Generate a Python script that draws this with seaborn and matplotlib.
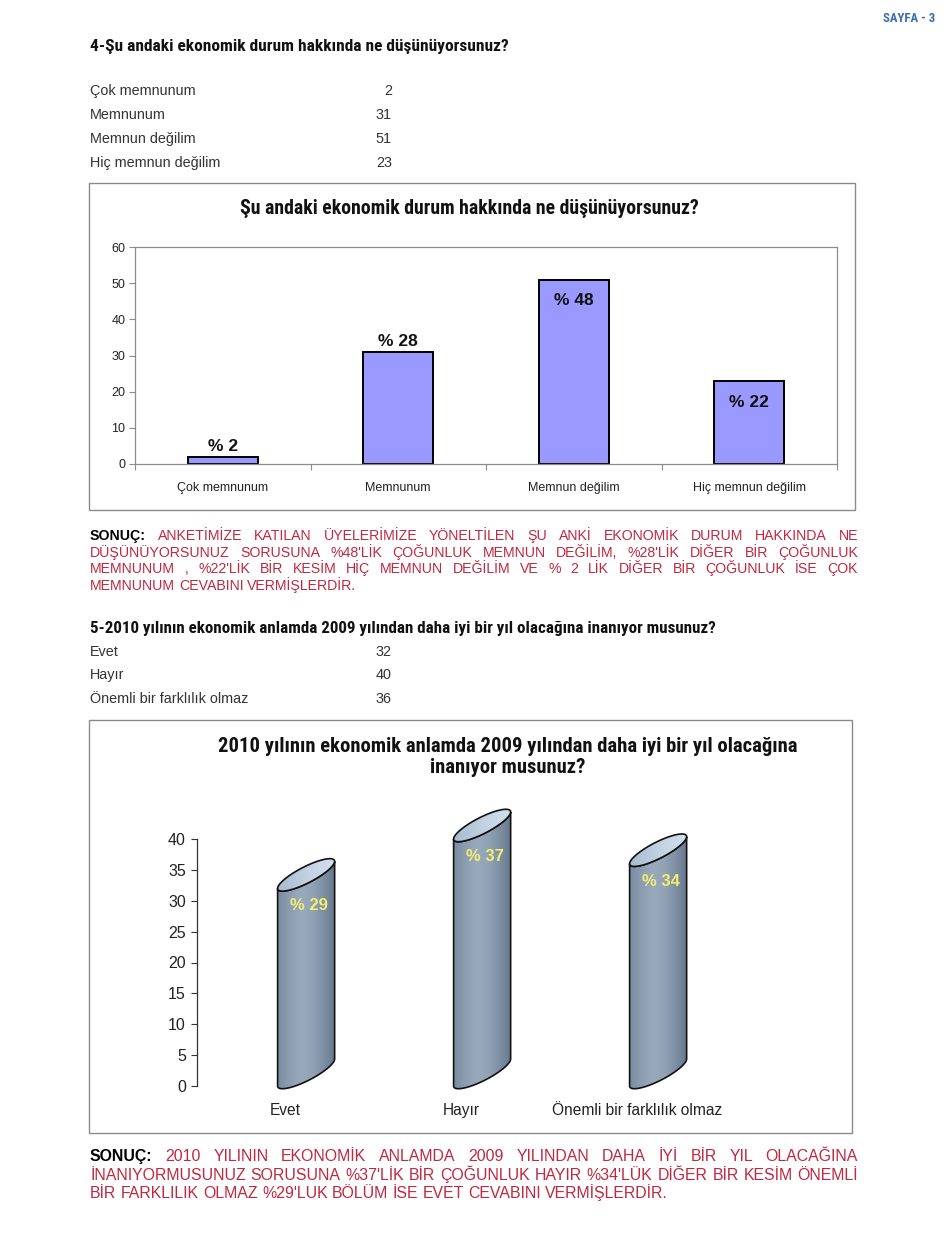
import numpy as np
import pandas as pd
import matplotlib
matplotlib.use("Agg")
import matplotlib.pyplot as plt
import seaborn as sns
from matplotlib import font_manager as fm
from matplotlib.font_manager import FontProperties
from matplotlib.patches import Rectangle, Polygon
from matplotlib.colors import LinearSegmentedColormap

# ---------------- data ----------------
page_label = "SAYFA - 3"

q4_heading = "4-Şu andaki ekonomik durum hakkında ne düşünüyorsunuz?"
q4_categories = ["Çok memnunum", "Memnunum", "Memnun değilim", "Hiç memnun değilim"]
q4_counts = [2, 31, 51, 23]
q4_percent = [2, 28, 48, 22]
q4_label_inside = [False, False, True, True]
q4_chart_title = "Şu andaki ekonomik durum hakkında ne düşünüyorsunuz?"
q4_yticks = [0, 10, 20, 30, 40, 50, 60]

q5_heading = "5-2010 yılının ekonomik anlamda 2009 yılından daha iyi bir yıl olacağına inanıyor musunuz?"
q5_categories = ["Evet", "Hayır", "Önemli bir farklılık olmaz"]
q5_counts = [32, 40, 36]
q5_percent = [29, 37, 34]
q5_chart_title = "2010 yılının ekonomik anlamda 2009 yılından daha iyi bir yıl olacağına\ninanıyor musunuz?"
q5_yticks = [0, 5, 10, 15, 20, 25, 30, 35, 40]

sonuc1_lines = [
    "SONUÇ: ANKETİMİZE KATILAN ÜYELERİMİZE YÖNELTİLEN ŞU ANKİ EKONOMİK DURUM HAKKINDA NE",
    "DÜŞÜNÜYORSUNUZ SORUSUNA %48'LİK ÇOĞUNLUK MEMNUN DEĞİLİM, %28'LİK DİĞER BİR ÇOĞUNLUK",
    "MEMNUNUM , %22'LİK BİR KESİM HİÇ MEMNUN DEĞİLİM VE % 2 LİK DİĞER BİR ÇOĞUNLUK İSE ÇOK",
    "MEMNUNUM CEVABINI VERMİŞLERDİR.",
]
sonuc2_lines = [
    "SONUÇ: 2010 YILININ EKONOMİK ANLAMDA 2009 YILINDAN DAHA İYİ BİR YIL OLACAĞINA",
    "İNANIYORMUSUNUZ SORUSUNA %37'LİK BİR ÇOĞUNLUK HAYIR %34'LÜK DİĞER BİR KESİM ÖNEMLİ",
    "BİR FARKLILIK OLMAZ %29'LUK BÖLÜM İSE EVET CEVABINI VERMİŞLERDİR.",
]

# ---------------- fonts ----------------
sns.set_style("white")
names = {f.name for f in fm.fontManager.ttflist}
ARIAL = "Liberation Sans" if "Liberation Sans" in names else "DejaVu Sans"
plt.rcParams["font.family"] = [ARIAL, "DejaVu Sans"]


def _is_bold(f):
    w = f.weight
    try:
        return int(w) >= 600
    except (TypeError, ValueError):
        return str(w).lower() in ("bold", "semibold", "demibold", "heavy", "black", "extra bold")


def _is_condensed(f):
    nm = f.name.lower()
    st = str(f.stretch).lower()
    if "narrow" in nm or "condensed" in nm:
        return "extra" not in nm and "ultra" not in nm
    if st in ("condensed", "semi-condensed"):
        return True
    try:
        return 500 > int(st) >= 300
    except ValueError:
        return False


def find_condensed(bold):
    prefs = ["liberation sans narrow", "arial narrow", "roboto condensed", "noto sans", "open sans",
             "dejavu sans", "roboto", "lato", "inter"]
    best, best_rank = None, 999
    for f in fm.fontManager.ttflist:
        if f.style != "normal" or not _is_condensed(f) or _is_bold(f) != bold:
            continue
        fname = str(f.fname).lower()
        if "extracondensed" in fname or "extra" in fname or "ultra" in fname:
            continue
        if bold and ("semibold" in fname or "extrabold" in fname or "black" in fname):
            continue
        if (not bold) and ("light" in fname or "thin" in fname or "medium" in fname):
            continue
        nm = f.name.lower()
        rank = 50
        for i, p in enumerate(prefs):
            if nm.startswith(p):
                rank = i
                break
        if "semicondensed" in fname:
            rank += 20
        if rank < best_rank:
            best, best_rank = f, rank
    if best is None:
        return FontProperties(family=ARIAL, weight="bold" if bold else "normal")
    return FontProperties(fname=best.fname)


COND_B = find_condensed(True)

W, H = 950, 1260
fig = plt.figure(figsize=(W / 100, H / 100), dpi=100)
fig.patch.set_facecolor("white")
renderer = fig.canvas.get_renderer()


def P(x, y):
    return (x / W, 1 - y / H)


def fp_copy(fp, size):
    f = fp.copy()
    f.set_size(size)
    return f


def fit_text(x, y, s, width, fp, ha="left", va="center", **kw):
    t = fig.text(*P(x, y), s, ha=ha, va=va, fontproperties=fp_copy(fp, 10), **kw)
    w = t.get_window_extent(renderer).width
    t.set_fontproperties(fp_copy(fp, 10 * width / w))
    return t


ARIAL_N = FontProperties(family=ARIAL)
ARIAL_B = FontProperties(family=ARIAL, weight="bold")


def text_width(s, fp, size):
    t = fig.text(0, 0, s, fontproperties=fp_copy(fp, size))
    w = t.get_window_extent(renderer).width
    t.remove()
    return w


def justify(lines, x0, x1, ys, last_width, color):
    size = 10 * last_width / text_width(lines[-1], ARIAL_N, 10)
    space = text_width("x x", ARIAL_N, size) - text_width("xx", ARIAL_N, size)
    for li, (line, y) in enumerate(zip(lines, ys)):
        words = line.split(" ")
        specs = []
        for wi, wd in enumerate(words):
            fp = ARIAL_B if (li == 0 and wi == 0) else ARIAL_N
            specs.append((wd, fp, text_width(wd, fp, size)))
        total = sum(s[2] for s in specs)
        if li < len(lines) - 1 and len(specs) > 1:
            gap = max((x1 - x0 - total) / (len(specs) - 1), space * 0.6)
        else:
            gap = space
        x = x0
        for wd, fp, w in specs:
            fig.text(*P(x, y), wd, ha="left", va="baseline", fontproperties=fp_copy(fp, size),
                     color="black" if fp is ARIAL_B else color)
            x += w + gap


# ---------------- page header ----------------
fit_text(935, 18, page_label, 52, COND_B, ha="right", color="#3B6DB3")

# ---------------- question 4 ----------------
fit_text(90, 47, q4_heading, 418, COND_B, color="#111111")
row_y4 = [91, 115, 139, 163]
t0 = fit_text(90, row_y4[0], q4_categories[0], 106, ARIAL_N, color="#333333")
tsize = t0.get_fontsize()
for i, (cat, n, y) in enumerate(zip(q4_categories, q4_counts, row_y4)):
    if i > 0:
        fig.text(*P(90, y), cat, ha="left", va="center", fontsize=tsize, color="#333333")
    fig.text(*P(392, y), str(n), ha="right", va="center", fontsize=tsize, color="#333333")

fig.add_artist(Rectangle(P(89, 510), (855 - 89) / W, (510 - 183) / H, transform=fig.transFigure,
                         fill=False, edgecolor="#8A8A8A", lw=1.0))
fit_text(469, 208, q4_chart_title, 458, COND_B, ha="center", color="#111111")

ax1 = fig.add_axes([135 / W, 1 - 464 / H, (837 - 135) / W, (464 - 247) / H])
df1 = pd.DataFrame({"cat": q4_categories, "n": q4_counts})
sns.barplot(data=df1, x="cat", y="n", color="#9999FF", saturation=1, width=0.4,
            edgecolor="black", linewidth=1.4, ax=ax1)
ax1.set_ylim(0, 60)
ax1.set_xlim(-0.5, 3.5)
ax1.set_yticks(q4_yticks)
ax1.set_xlabel("")
ax1.set_ylabel("")
for sp in ax1.spines.values():
    sp.set_visible(True)
    sp.set_color("#8C8C8C")
    sp.set_linewidth(0.9)
ax1.tick_params(axis="y", which="major", left=True, length=4, width=0.8, color="#8C8C8C",
                labelsize=9, pad=3, labelcolor="#222222")
ax1.tick_params(axis="x", which="major", bottom=False, length=0, labelsize=9, pad=13, labelcolor="#222222")
ax1.set_xticks([-0.5, 0.5, 1.5, 2.5, 3.5], minor=True)
ax1.tick_params(axis="x", which="minor", bottom=True, length=4, width=0.8, color="#8C8C8C")
for lab in ax1.get_xticklabels() + ax1.get_yticklabels():
    lab.set_family(ARIAL)
for p, pct, inside in zip(ax1.patches, q4_percent, q4_label_inside):
    cx = p.get_x() + p.get_width() / 2
    h = p.get_height()
    ax1.annotate(f"% {pct}", (cx, h), xytext=(0, -10 if inside else 2), textcoords="offset points",
                 ha="center", va="top" if inside else "bottom",
                 fontproperties=fp_copy(ARIAL_B, 12.5), color="#111111")

justify(sonuc1_lines, 90, 858, [540, 557, 573, 590], 268, "#C0283F")

# ---------------- question 5 ----------------
fit_text(90, 628, q5_heading, 627, COND_B, color="#111111")
row_y5 = [652, 675, 699]
for cat, n, y in zip(q5_categories, q5_counts, row_y5):
    fig.text(*P(90, y), cat, ha="left", va="center", fontsize=tsize, color="#333333")
    fig.text(*P(392, y), str(n), ha="right", va="center", fontsize=tsize, color="#333333")

fig.add_artist(Rectangle(P(89, 1133), (852 - 89) / W, (1133 - 720) / H, transform=fig.transFigure,
                         fill=False, edgecolor="#8A8A8A", lw=1.0))
fit_text(508, 757, q5_chart_title, 580, COND_B, ha="center", color="#111111", linespacing=1.1)

px_per_unit = (1086 - 839) / 40.0
ymin, ymax = -2.0, 47.0
ax2 = fig.add_axes([197 / W, 1 - (1086 + (-ymin) * px_per_unit) / H, 528 / W,
                    (ymax - ymin) * px_per_unit / H])
df2 = pd.DataFrame({"cat": q5_categories, "n": q5_counts})
sns.barplot(data=df2, x="cat", y="n", width=0.324, alpha=0.0, ax=ax2)
ax2.set_xlim(-0.5, 2.5)
ax2.set_ylim(ymin, ymax)

body_cmap = LinearSegmentedColormap.from_list(
    "cyl", ["#7C8CA0", "#8E9EB2", "#9AAABD", "#92A2B5", "#7D8EA3", "#66778D"])
top_cmap = LinearSegmentedColormap.from_list("cyltop", ["#A6BACF", "#C2D2E3", "#D3E0EC"])

depth_dx = 0.12          # horizontal shift of the 3-D cylinders
rise = 27 / px_per_unit  # oblique rise of the ellipse
b_half = 9 / px_per_unit
t_front = np.linspace(np.pi, 2 * np.pi, 60)
t_full = np.linspace(0, 2 * np.pi, 120)

for p, pct in zip(ax2.patches, q5_percent):
    X = p.get_x() + p.get_width() / 2 + depth_dx
    a = p.get_width() / 2
    v = p.get_height()

    def ell(t, base):
        cy = base + rise / 2
        return np.column_stack([X + a * np.cos(t), cy + (rise / 2) * np.cos(t) + b_half * np.sin(t)])

    bottom_arc = ell(t_front, 0.0)
    top_arc = ell(t_front[::-1], v)
    body_pts = np.vstack([bottom_arc, top_arc])
    body = Polygon(body_pts, closed=True, facecolor="none", edgecolor="#111111", lw=1.2, zorder=3)
    ax2.add_patch(body)
    grad = np.linspace(0, 1, 256).reshape(1, -1)
    im = ax2.imshow(grad, extent=[X - a, X + a, ymin, v + rise + b_half + 1], aspect="auto",
                    cmap=body_cmap, zorder=2, interpolation="bilinear")
    im.set_clip_path(body)

    top_pts = ell(t_full, v)
    top = Polygon(top_pts, closed=True, facecolor="none", edgecolor="#111111", lw=1.2, zorder=5)
    ax2.add_patch(top)
    im2 = ax2.imshow(grad, extent=[X - a, X + a, v - b_half, v + rise + b_half], aspect="auto",
                     cmap=top_cmap, zorder=4, interpolation="bilinear")
    im2.set_clip_path(top)

    ax2.text(X + 0.015, v + rise / 2 - 5.0, f"% {pct}", ha="center", va="center",
             fontproperties=fp_copy(ARIAL_B, 12), color="#F2EE70", zorder=6)

ax2.set_xlim(-0.5, 2.5)
ax2.set_ylim(ymin, ymax)
ax2.set_xlabel("")
ax2.set_ylabel("")
ax2.set_yticks(q5_yticks)
for side in ["top", "right", "bottom"]:
    ax2.spines[side].set_visible(False)
ax2.spines["left"].set_visible(True)
ax2.spines["left"].set_bounds(0, 40)
ax2.spines["left"].set_color("#333333")
ax2.spines["left"].set_linewidth(0.9)
ax2.tick_params(axis="y", left=True, length=4, width=0.8, color="#333333", labelsize=11.5, pad=4,
                labelcolor="#222222")
ax2.tick_params(axis="x", bottom=False, length=0, labelsize=11.2, pad=3, labelcolor="#222222")
for lab in ax2.get_xticklabels() + ax2.get_yticklabels():
    lab.set_family(ARIAL)

justify(sonuc2_lines, 90, 858, [1161, 1180, 1198], 582, "#C0283F")

fig.savefig("out.png", dpi=100, facecolor="white")
